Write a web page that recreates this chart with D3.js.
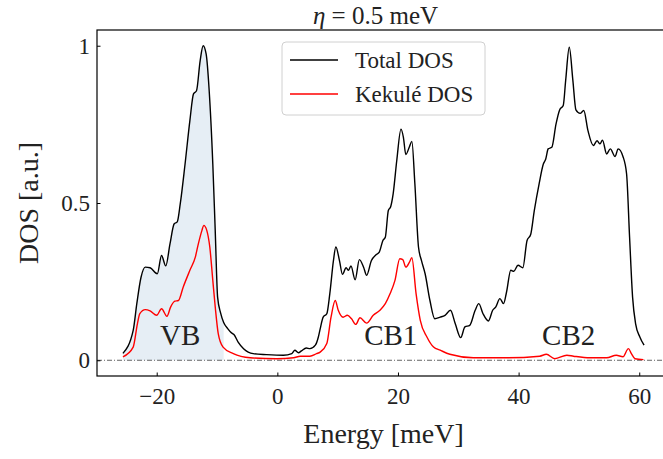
<!DOCTYPE html>
<html>
<head>
<meta charset="utf-8">
<script src="https://cdn.jsdelivr.net/npm/d3@7"></script>
<style>
  body { margin: 0; background: #fff; }
  svg { font-family: "Liberation Serif", "DejaVu Serif", serif; }
</style>
</head>
<body>
<div id="chart"></div>
<script>
// energies in meV, DOS normalised to the maximum
var totalEnergy = [-25.6,-23.9,-23.3,-22.6,-21.9,-21.1,-19.9,-19.2,-18.5,-17.8,-17.1,-16.6,-16.1,-15.3,-14.5,-13.9,-13.4,-12.8,-12.3,-11.8,-11.3,-10.7,-10.3,-9.9,-9.4,-8.9,-8.2,-7.6,-7.2,-6.5,-5.6,-4.0,-1.8,1.0,2.4,2.9,3.5,4.0,4.8,5.4,6.3,6.8,7.1,7.6,8.2,8.7,9.3,9.7,10.3,10.8,11.4,11.8,12.2,12.9,13.6,14.3,14.8,15.6,16.4,16.9,17.5,17.9,18.4,18.8,19.2,19.8,20.5,20.9,21.3,21.9,22.3,22.8,23.4,23.9,24.5,25.3,26.1,27.0,27.8,28.7,29.5,30.4,31.1,31.9,32.8,33.4,34.1,35.0,35.7,36.2,36.9,37.5,38.0,38.7,39.2,39.9,40.7,41.4,42.0,42.6,43.4,44.1,44.5,44.9,45.5,46.2,46.8,47.4,47.8,48.4,49.0,49.5,50.2,50.8,51.5,52.4,53.0,53.5,53.9,54.6,55.2,56.0,56.5,57.3,57.9,58.4,58.9,59.4,60.1,60.8];
var totalDos = [0.022,0.095,0.18,0.264,0.296,0.294,0.275,0.333,0.30,0.37,0.434,0.44,0.497,0.624,0.762,0.847,0.857,0.952,1.0,0.973,0.857,0.624,0.413,0.20,0.15,0.12,0.10,0.087,0.082,0.058,0.037,0.021,0.018,0.016,0.021,0.032,0.024,0.030,0.039,0.037,0.048,0.074,0.10,0.137,0.148,0.212,0.317,0.36,0.317,0.273,0.294,0.286,0.30,0.256,0.32,0.296,0.27,0.317,0.336,0.344,0.381,0.391,0.476,0.489,0.529,0.635,0.735,0.709,0.654,0.679,0.696,0.561,0.36,0.317,0.275,0.19,0.132,0.137,0.143,0.159,0.116,0.072,0.106,0.111,0.159,0.18,0.148,0.125,0.159,0.169,0.196,0.18,0.217,0.286,0.283,0.302,0.294,0.381,0.40,0.476,0.561,0.624,0.64,0.672,0.677,0.751,0.796,0.81,0.889,0.995,0.889,0.796,0.785,0.794,0.73,0.683,0.698,0.688,0.70,0.656,0.672,0.648,0.672,0.648,0.593,0.391,0.20,0.116,0.074,0.048];

var kekuleEnergy = [-25.6,-23.9,-23.2,-22.8,-21.9,-21.1,-20.0,-19.2,-18.3,-17.7,-17.0,-16.4,-15.6,-14.5,-13.6,-13.1,-12.5,-12.2,-11.7,-11.2,-10.7,-10.3,-9.8,-9.0,-7.3,-4.5,-0.1,2.7,3.8,5.4,6.5,7.1,8.2,8.9,9.6,10.1,10.9,11.6,12.3,13.0,13.7,14.8,15.9,17.0,17.9,18.7,19.5,20.3,20.8,21.3,21.9,22.3,23.0,23.7,24.8,25.9,27.0,28.6,32.5,38.0,43.5,44.6,46.0,48.0,49.1,51.8,54.6,56.2,57.3,58.2,58.7,59.3,60.7];
var kekuleDos = [0.011,0.042,0.116,0.148,0.161,0.157,0.143,0.164,0.14,0.169,0.188,0.19,0.233,0.286,0.328,0.37,0.413,0.429,0.413,0.36,0.254,0.17,0.085,0.042,0.021,0.008,0.005,0.008,0.013,0.013,0.021,0.026,0.053,0.137,0.19,0.159,0.137,0.143,0.132,0.114,0.135,0.118,0.143,0.159,0.18,0.212,0.254,0.323,0.32,0.296,0.312,0.326,0.212,0.127,0.074,0.042,0.032,0.019,0.008,0.008,0.013,0.019,0.005,0.016,0.013,0.008,0.008,0.016,0.011,0.037,0.021,0.005,0.002];

var bandLabels = ["VB", "CB1", "CB2"];
var bandEnergy = [-16.1, 18.8, 48.3];
var bandDos = [0.048, 0.048, 0.048];

var vbFillEnd = -8.7;
var xTicks = [-20, 0, 20, 40, 60];
var yTicks = [0, 0.5, 1];
var seriesNames = ["Total DOS", "Kekulé DOS"];
var seriesColors = ["#000000", "#ff0000"];

var width = 663, height = 459;
var margin = {left: 97, top: 30, right: -7, bottom: 83};

var svg = d3.select("#chart").append("svg")
    .attr("width", width)
    .attr("height", height);

var x = d3.scaleLinear().domain([-29.9, 65.1]).range([margin.left, width - margin.right]);
var y = d3.scaleLinear().domain([-0.05, 1.05]).range([height - margin.bottom, margin.top]);

var total = totalEnergy.map(function(e, i){ return {e: e, v: totalDos[i]}; });
var kekule = kekuleEnergy.map(function(e, i){ return {e: e, v: kekuleDos[i]}; });

svg.append("clipPath").attr("id", "plotclip")
    .append("rect")
    .attr("x", x.range()[0]).attr("y", y.range()[1])
    .attr("width", x.range()[1] - x.range()[0])
    .attr("height", y.range()[0] - y.range()[1]);

var plot = svg.append("g").attr("clip-path", "url(#plotclip)");

// valence band shading
var area = d3.area()
    .x(function(d){ return x(d.e); })
    .y0(y(0))
    .y1(function(d){ return y(d.v); })
    .curve(d3.curveMonotoneX);

plot.append("path")
    .datum(total.filter(function(d){ return d.e <= vbFillEnd; }))
    .attr("d", area)
    .style("fill", "#e6eef5")
    .style("stroke", "none");

// zero line
plot.append("line")
    .attr("x1", x.range()[0]).attr("x2", x.range()[1])
    .attr("y1", y(0)).attr("y2", y(0))
    .style("stroke", "#666")
    .style("stroke-width", 1)
    .style("stroke-dasharray", "5,2,1,2");

var line = d3.line()
    .x(function(d){ return x(d.e); })
    .y(function(d){ return y(d.v); })
    .curve(d3.curveMonotoneX);

[total, kekule].forEach(function(s, i){
    plot.append("path")
        .datum(s)
        .attr("d", line)
        .style("fill", "none")
        .style("stroke", seriesColors[i])
        .style("stroke-width", 1.4)
        .style("stroke-linejoin", "round");
});

// band labels
bandLabels.forEach(function(lab, i){
    svg.append("text")
        .attr("x", x(bandEnergy[i]))
        .attr("y", y(bandDos[i]))
        .attr("text-anchor", "middle")
        .style("font-size", "29px")
        .style("fill", "#222")
        .text(lab);
});

// axes
var xAxis = d3.axisBottom(x).tickValues(xTicks).tickSize(-3.5).tickPadding(12);
var gx = svg.append("g")
    .attr("transform", "translate(0," + y.range()[0] + ")")
    .call(xAxis);
gx.select(".domain").remove();
gx.selectAll("text").style("font-size", "23px").style("fill", "#222").style("font-family", "Liberation Serif");

var yAxis = d3.axisLeft(y).tickValues(yTicks).tickSize(-3.5).tickPadding(7)
    .tickFormat(function(d){ return d === 0.5 ? "0.5" : d3.format("d")(d); });
var gy = svg.append("g")
    .attr("transform", "translate(" + x.range()[0] + ",0)")
    .call(yAxis);
gy.select(".domain").remove();
gy.selectAll("text").style("font-size", "23px").style("fill", "#222").style("font-family", "Liberation Serif");

// frame
svg.append("rect")
    .attr("x", x.range()[0]).attr("y", y.range()[1])
    .attr("width", x.range()[1] - x.range()[0])
    .attr("height", y.range()[0] - y.range()[1])
    .style("fill", "none")
    .style("stroke", "#000")
    .style("stroke-width", 1.2);

var cx = (x.range()[0] + x.range()[1]) / 2;

// title
var title = svg.append("text")
    .attr("x", cx - 8).attr("y", 24)
    .attr("text-anchor", "middle")
    .style("font-size", "25px")
    .style("fill", "#222");
title.append("tspan").style("font-style", "italic").text("η");
title.append("tspan").text(" = 0.5 meV");

// axis labels
svg.append("text")
    .attr("x", cx).attr("y", 443)
    .attr("text-anchor", "middle")
    .style("font-size", "28px")
    .style("fill", "#222")
    .text("Energy [meV]");

svg.append("text")
    .attr("transform", "translate(38," + ((y.range()[0] + y.range()[1]) / 2) + ") rotate(-90)")
    .attr("text-anchor", "middle")
    .style("font-size", "28px")
    .style("fill", "#222")
    .text("DOS [a.u.]");

// legend
var legend = svg.append("g").attr("transform", "translate(282,42)");
legend.append("rect")
    .attr("width", 203).attr("height", 73)
    .attr("rx", 4)
    .style("fill", "#fff")
    .style("fill-opacity", 0.85)
    .style("stroke", "#d0d0d0")
    .style("stroke-width", 1);

seriesNames.forEach(function(name, i){
    var ly = 18 + i * 34;
    legend.append("line")
        .attr("x1", 8).attr("x2", 56)
        .attr("y1", ly).attr("y2", ly)
        .style("stroke", seriesColors[i])
        .style("stroke-width", 1.4);
    legend.append("text")
        .attr("x", 73).attr("y", ly + 8)
        .style("font-size", "23px")
        .style("fill", "#222")
        .text(name);
});
</script>
</body>
</html>
